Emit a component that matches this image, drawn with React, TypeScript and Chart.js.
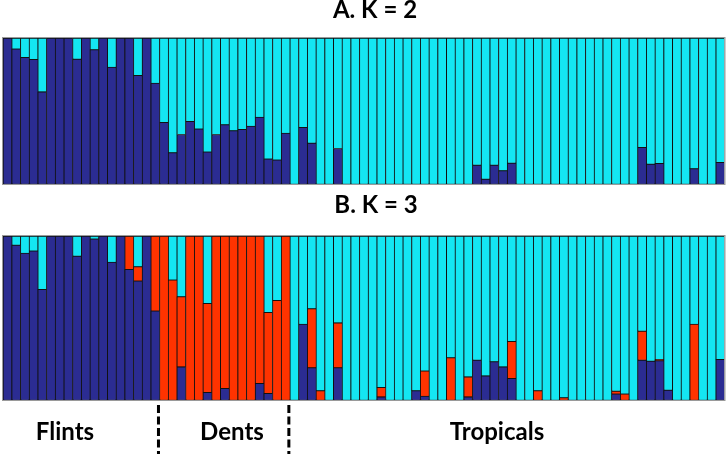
import React, { useEffect, useRef } from "react";
import { Chart, registerables } from "chart.js";

Chart.register(...registerables);

// ---------- data ----------
const GROUP_NAMES = ["Flints", "Dents", "Tropicals"];
const GROUP_SIZES = [18, 15, 50];

// K = 2 : ancestry fractions per sample (cluster 1 = navy, cluster 2 = cyan)
const K2_NAVY = [
  1, 0.925, 0.867, 0.854, 0.632, 1, 1, 1, 0.856, 1, 0.92, 1, 0.8, 1, 1, 0.744, 1, 0.691,
  0.423, 0.215, 0.339, 0.43, 0.378, 0.22, 0.339, 0.407, 0.366, 0.375, 0.396, 0.458, 0.172, 0.165, 0.348,
  0, 0.389, 0.281, 0, 0, 0.243, 0, 0, 0, 0, 0, 0, 0, 0, 0, 0, 0, 0, 0, 0, 0,
  0.13, 0.034, 0.13, 0.092, 0.144, 0, 0, 0, 0, 0, 0, 0, 0, 0, 0, 0, 0, 0, 0,
  0.252, 0.137, 0.142, 0, 0, 0, 0.105, 0, 0, 0.149,
];
const K2_CYAN = [
  0, 0.075, 0.133, 0.146, 0.368, 0, 0, 0, 0.144, 0, 0.08, 0, 0.2, 0, 0, 0.256, 0, 0.309,
  0.577, 0.785, 0.661, 0.57, 0.622, 0.78, 0.661, 0.593, 0.634, 0.625, 0.604, 0.542, 0.828, 0.835, 0.652,
  1, 0.611, 0.719, 1, 1, 0.757, 1, 1, 1, 1, 1, 1, 1, 1, 1, 1, 1, 1, 1, 1, 1,
  0.87, 0.966, 0.87, 0.908, 0.856, 1, 1, 1, 1, 1, 1, 1, 1, 1, 1, 1, 1, 1, 1,
  0.748, 0.863, 0.858, 1, 1, 1, 0.895, 1, 1, 0.851,
];

// K = 3 : navy, red, cyan
const K3_NAVY = [
  1, 0.945, 0.896, 0.909, 0.675, 1, 1, 1, 0.878, 1, 0.982, 1, 0.841, 1, 0.797, 0.726, 1, 0.543,
  0, 0, 0.203, 0, 0, 0.047, 0, 0.071, 0, 0, 0, 0.102, 0.041, 0, 0,
  0, 0.463, 0.197, 0, 0, 0.197, 0, 0, 0, 0, 0.02, 0, 0, 0, 0.057, 0.024, 0, 0, 0, 0, 0.02,
  0.244, 0.148, 0.234, 0.203, 0.132, 0, 0, 0, 0, 0, 0, 0, 0, 0, 0, 0, 0.037, 0, 0,
  0.244, 0.238, 0.24, 0.061, 0, 0, 0, 0, 0, 0.248,
];
const K3_RED = [
  0, 0, 0, 0, 0, 0, 0, 0, 0, 0, 0, 0, 0, 0, 0.203, 0.087, 0, 0.457,
  1, 0.732, 0.427, 1, 1, 0.543, 1, 0.929, 1, 1, 1, 0.898, 0.494, 0.608, 1,
  0, 0, 0.36, 0.057, 0, 0.274, 0, 0, 0, 0, 0.057, 0, 0, 0, 0, 0.154, 0, 0, 0.258, 0, 0.122,
  0, 0, 0, 0, 0.226, 0, 0, 0.057, 0, 0, 0.014, 0, 0, 0, 0, 0, 0.018, 0.037, 0,
  0.177, 0, 0.008, 0, 0, 0, 0.463, 0, 0, 0,
];
const K3_CYAN = [
  0, 0.055, 0.104, 0.091, 0.325, 0, 0, 0, 0.122, 0, 0.018, 0, 0.159, 0, 0, 0.187, 0, 0,
  0, 0.268, 0.37, 0, 0, 0.41, 0, 0, 0, 0, 0, 0, 0.465, 0.392, 0,
  1, 0.537, 0.443, 0.943, 1, 0.529, 1, 1, 1, 1, 0.923, 1, 1, 1, 0.943, 0.822, 1, 1, 0.742, 1, 0.858,
  0.756, 0.852, 0.766, 0.797, 0.642, 1, 1, 0.943, 1, 1, 0.986, 1, 1, 1, 1, 1, 0.945, 0.963, 1,
  0.579, 0.762, 0.752, 0.939, 1, 1, 0.537, 1, 1, 0.752,
];

const SAMPLES: string[] = [];
GROUP_NAMES.forEach((g, gi) => {
  for (let i = 0; i < GROUP_SIZES[gi]; i++) SAMPLES.push(`${g} ${i + 1}`);
});

// ---------- styles ----------
const NAVY = "#2b2c92";
const CYAN = "#14e6f2";
const RED = "#ff3300";
const EDGE = "#111111";
const FONT = "bold 24px Lato, 'Open Sans', sans-serif";

function ds(label: string, data: number[], color: string) {
  return {
    label,
    data,
    backgroundColor: color,
    borderColor: EDGE,
    borderWidth: { top: 1, left: 1, right: 0.5, bottom: 0.5 },
    borderSkipped: false as const,
    categoryPercentage: 1,
    barPercentage: 1,
  };
}

const framePlugin = {
  id: "frame",
  afterDatasetsDraw(chart: any) {
    const { ctx, chartArea: a } = chart;
    ctx.save();
    ctx.strokeStyle = "#9a9a9a";
    ctx.lineWidth = 1;
    ctx.strokeRect(a.left - 0.5, a.top - 0.5, a.right - a.left + 1, a.bottom - a.top + 1);
    ctx.restore();
  },
};

function titlePlugin(text: string, x: number, y: number) {
  return {
    id: "ttl",
    afterDraw(chart: any) {
      const ctx = chart.ctx;
      ctx.save();
      ctx.font = FONT;
      ctx.fillStyle = "#000";
      ctx.textAlign = "center";
      ctx.textBaseline = "alphabetic";
      ctx.fillText(text, x, y);
      ctx.restore();
    },
  };
}

const LABEL_X = [65, 232, 497];

const groupPlugin = {
  id: "groups",
  afterDraw(chart: any) {
    const ctx = chart.ctx;
    const xs = chart.scales.x;
    const bottom = chart.chartArea.bottom;
    ctx.save();
    // dashed separators between groups
    let acc = 0;
    for (let g = 0; g < GROUP_SIZES.length - 1; g++) {
      acc += GROUP_SIZES[g];
      const px = (xs.getPixelForValue(acc - 1) + xs.getPixelForValue(acc)) / 2 - 1;
      ctx.strokeStyle = "#000";
      ctx.lineWidth = 3;
      ctx.setLineDash([8, 3.5]);
      ctx.beginPath();
      ctx.moveTo(px, bottom + 5);
      ctx.lineTo(px, chart.height);
      ctx.stroke();
    }
    ctx.setLineDash([]);
    ctx.font = FONT;
    ctx.fillStyle = "#000";
    ctx.textAlign = "center";
    ctx.textBaseline = "alphabetic";
    GROUP_NAMES.forEach((n, i) => ctx.fillText(n, LABEL_X[i], bottom + 40));
    ctx.restore();
  },
};

function makeOptions(padTop: number, padBottom: number) {
  return {
    responsive: false,
    animation: false as const,
    layout: { padding: { left: 3, right: 1.5, top: padTop, bottom: padBottom } },
    plugins: { legend: { display: false }, title: { display: false }, tooltip: { enabled: false } },
    scales: {
      x: { stacked: true, display: false, grid: { display: false } },
      y: { stacked: true, display: false, min: 0, max: 1, grid: { display: false } },
    },
  };
}

export default function App() {
  const refA = useRef<HTMLCanvasElement>(null);
  const refB = useRef<HTMLCanvasElement>(null);

  useEffect(() => {
    const a = new Chart(refA.current!, {
      type: "bar",
      data: {
        labels: SAMPLES,
        datasets: [ds("Cluster 1", K2_NAVY, NAVY), ds("Cluster 2", K2_CYAN, CYAN)],
      },
      options: makeOptions(38, 6) as any,
      plugins: [framePlugin, titlePlugin("A. K = 2", 375, 18)],
    });
    const b = new Chart(refB.current!, {
      type: "bar",
      data: {
        labels: SAMPLES,
        datasets: [
          ds("Cluster 1", K3_NAVY, NAVY),
          ds("Cluster 3", K3_RED, RED),
          ds("Cluster 2", K3_CYAN, CYAN),
        ],
      },
      options: makeOptions(46, 54) as any,
      plugins: [framePlugin, titlePlugin("B. K = 3", 376, 23), groupPlugin],
    });
    return () => {
      a.destroy();
      b.destroy();
    };
  }, []);

  return (
    <div style={{ position: "fixed", left: 0, top: 0, width: 726, height: 454, background: "#fff" }}>
      <canvas ref={refA} width={726} height={190} style={{ position: "absolute", left: 0, top: 0 }} />
      <canvas ref={refB} width={726} height={264} style={{ position: "absolute", left: 0, top: 190 }} />
    </div>
  );
}
